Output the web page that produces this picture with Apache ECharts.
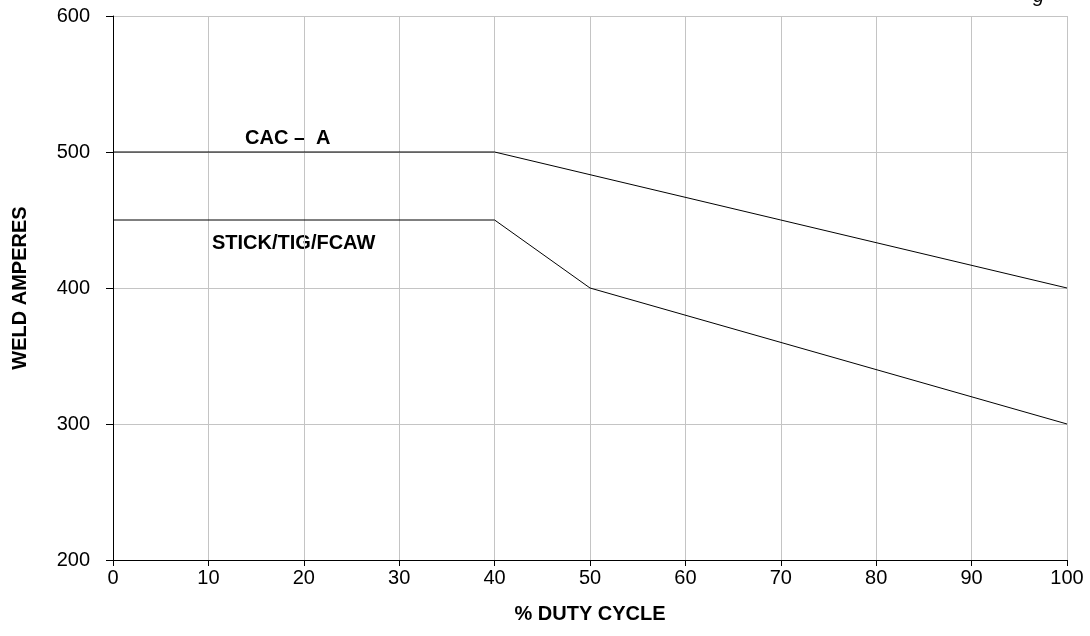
<!DOCTYPE html>
<html>
<head>
<meta charset="utf-8">
<script src="https://cdn.jsdelivr.net/npm/echarts@6/dist/echarts.min.js"></script>
<style>
  html, body { margin: 0; padding: 0; background: #fff; }
  #chart { width: 1090px; height: 636px; }
</style>
</head>
<body>
<div id="chart"></div>
<script>
// duty cycle (%) vs weld amperes
const cacDuty = [0, 40, 100]
const cacAmps = [500, 500, 400]
const stickDuty = [0, 40, 50, 100]
const stickAmps = [450, 450, 400, 300]
const xTicks = [0, 10, 20, 30, 40, 50, 60, 70, 80, 90, 100]
const yTicks = [200, 300, 400, 500, 600]

const font = '"Liberation Sans", Arial, Helvetica, sans-serif'
const gridColor = '#c4c4c4'

const chart = echarts.init(document.getElementById('chart'))

const toPairs = (xs, ys) => xs.map((x, i) => [x, ys[i]])

const option = {
  animation: false,
  backgroundColor: '#fff',
  grid: { left: 113, right: 23, top: 16, bottom: 76, containLabel: false, outerBoundsMode: 'none' },
  xAxis: {
    type: 'value',
    min: xTicks[0],
    max: xTicks[xTicks.length - 1],
    interval: 10,
    name: '% DUTY CYCLE',
    nameLocation: 'middle',
    nameGap: 44,
    nameTextStyle: { fontFamily: font, fontSize: 20, fontWeight: 'bold', color: '#000' },
    axisLine: { lineStyle: { color: '#000', width: 1 } },
    axisTick: { show: true, length: 6, lineStyle: { color: '#000' } },
    axisLabel: { fontFamily: font, fontSize: 20, color: '#000', margin: 8 },
    splitLine: { show: true, lineStyle: { color: gridColor, width: 1 } }
  },
  yAxis: {
    type: 'value',
    min: yTicks[0],
    max: yTicks[yTicks.length - 1],
    interval: 100,
    name: 'WELD AMPERES',
    nameLocation: 'middle',
    nameGap: 83,
    nameTextStyle: { fontFamily: font, fontSize: 20, fontWeight: 'bold', color: '#000' },
    axisLine: { show: true, lineStyle: { color: '#000', width: 1 } },
    axisTick: { show: true, length: 7, lineStyle: { color: '#000' } },
    axisLabel: { fontFamily: font, fontSize: 20, color: '#000', margin: 23 },
    splitLine: { show: true, lineStyle: { color: gridColor, width: 1 } }
  },
  series: [
    {
      name: 'CAC - A',
      type: 'line',
      data: toPairs(cacDuty, cacAmps),
      symbol: 'none',
      lineStyle: { color: '#000', width: 1 },
      z: 5
    },
    {
      name: 'STICK/TIG/FCAW',
      type: 'line',
      data: toPairs(stickDuty, stickAmps),
      symbol: 'none',
      lineStyle: { color: '#000', width: 1 },
      z: 5
    }
  ],
  graphic: [
    {
      type: 'text', left: 245, top: 128,
      style: { text: 'CAC –  A', font: 'bold 20px ' + font, fill: '#000' }
    },
    {
      type: 'text', left: 212, top: 233,
      style: { text: 'STICK/TIG/FCAW', font: 'bold 20px ' + font, fill: '#000' }
    },
    {
      type: 'text', left: 1033, top: -14,
      style: { text: 'g', font: 'italic 20px ' + font, fill: '#000' }
    }
  ]
}

chart.setOption(option)
</script>
</body>
</html>
